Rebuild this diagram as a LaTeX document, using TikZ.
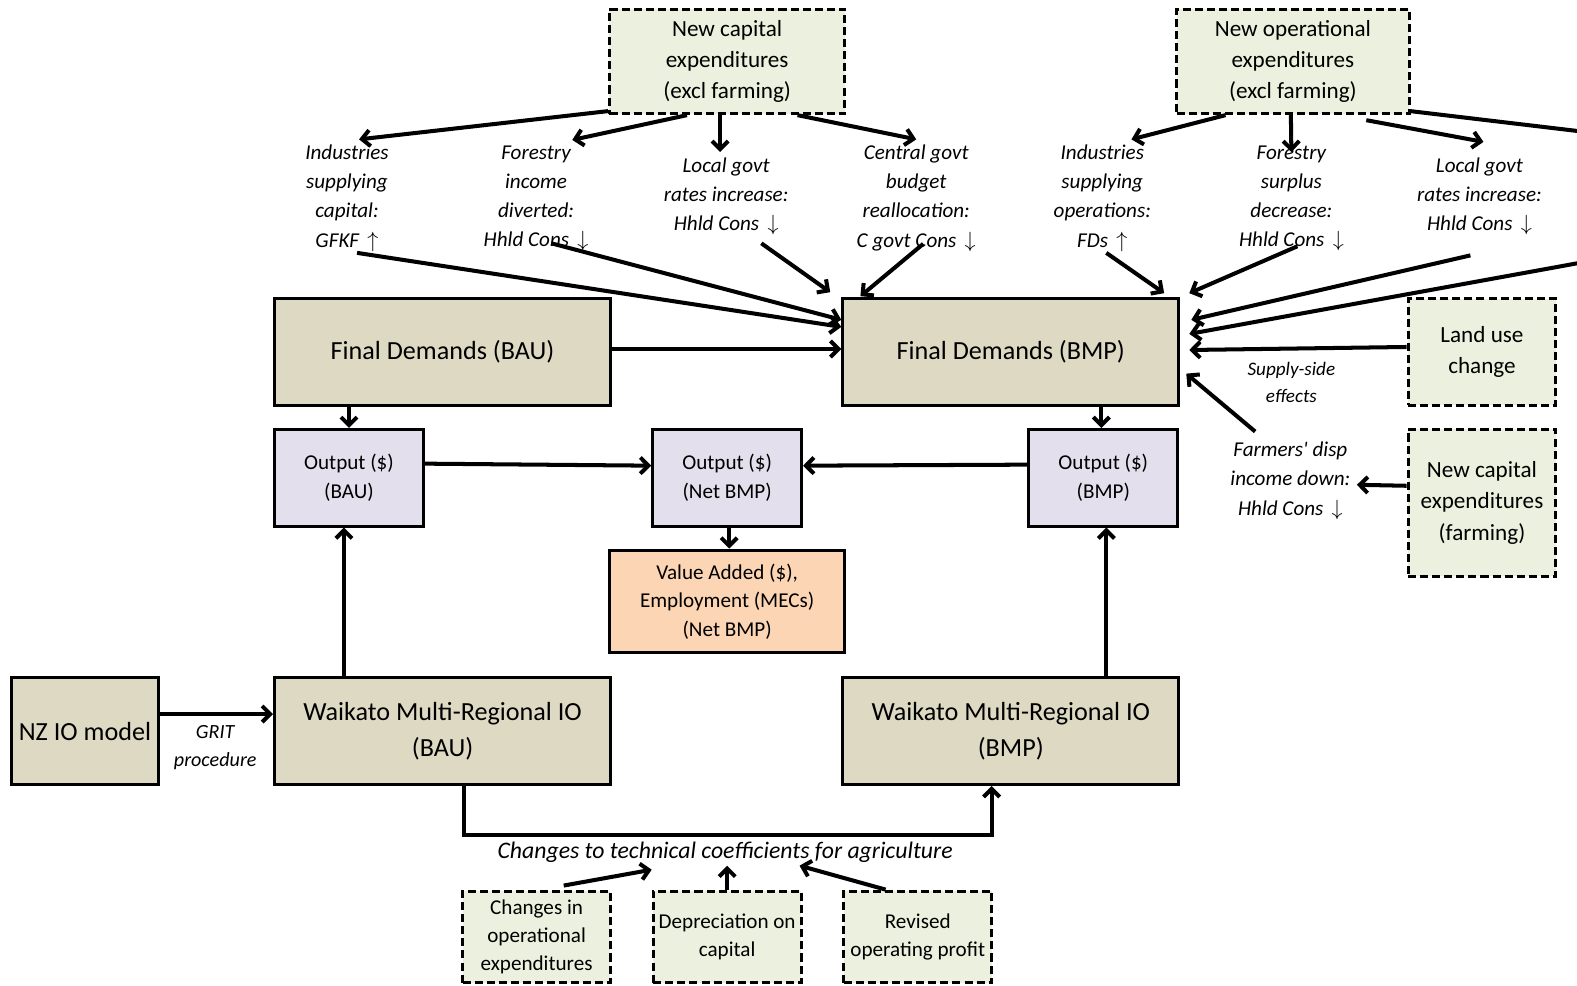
\documentclass[tikz,border=0pt]{standalone}
\usepackage{fontspec}
\setmainfont{Carlito}
\usetikzlibrary{arrows.meta}
\definecolor{fdtan}{HTML}{DDD9C3}
\definecolor{outlilac}{HTML}{E4DFEC}
\definecolor{newgreen}{HTML}{EBF1DE}
\definecolor{vaorange}{HTML}{FCD5B4}
\newcommand{\dn}{\ \,$\downarrow$}
\newcommand{\up}{\ \,$\uparrow$}

\begin{document}
\begin{tikzpicture}[x=0.5pt, y=-0.5pt,
  every node/.style={align=center, inner sep=1pt, line width=1.5pt},
  fdbox/.style={draw, fill=fdtan, minimum width=167pt, minimum height=53pt, font=\fontsize{13}{17.5}\selectfont},
  outbox/.style={draw, fill=outlilac, minimum width=74pt, minimum height=48pt, font=\fontsize{10.5}{14.5}\selectfont},
  newbox/.style={draw, dash pattern=on 4pt off 2pt, fill=newgreen, font=\fontsize{11.5}{15.5}\selectfont},
  smallbox/.style={draw, dash pattern=on 4pt off 2pt, fill=newgreen, minimum width=73.5pt, minimum height=45.5pt, font=\fontsize{10.5}{14}\selectfont},
  note/.style={font=\fontsize{10.5}{14.5}\selectfont\itshape},
  arr/.style={line width=2pt, -{Straight Barb[length=4pt,width=8pt]}}]
\useasboundingbox (0,0) rectangle (1568,980);

\node[newbox, minimum width=117pt, minimum height=52pt] (capex) at (723,61) {New capital\\expenditures\\(excl farming)};
\node[newbox, minimum width=115.5pt, minimum height=52pt] (opex) at (1285.5,61) {New operational\\expenditures\\(excl farming)};

\node[note] (ind1) at (345,197) {Industries\\supplying\\capital:\\GFKF\up};
\node[note] (forinc) at (533,197) {Forestry\\income\\diverted:\\Hhld Cons\dn};
\node[note] (loc1) at (722,195) {Local govt\\rates increase:\\Hhld Cons\dn};
\node[note] (cgov) at (911,197) {Central govt\\budget\\reallocation:\\C govt Cons\dn};
\node[note] (indop) at (1096,197) {Industries\\supplying\\operations:\\FDs\up};
\node[note] (forsur) at (1284,197) {Forestry\\surplus\\decrease:\\Hhld Cons\dn};
\node[note] (loc2) at (1471,195) {Local govt\\rates increase:\\Hhld Cons\dn};

\node[fdbox] (fdbau) at (440,350) {Final Demands (BAU)};
\node[fdbox] (fdbmp) at (1005,350) {Final Demands (BMP)};

\node[newbox, minimum width=73.5pt, minimum height=53pt] (landuse) at (1473.5,350) {Land use\\change};
\node[note, font=\fontsize{9.5}{13.5}\selectfont\itshape] (supply) at (1284,380) {Supply-side\\effects};
\node[note] (farm) at (1283,478) {Farmers\textquotesingle\ disp\\income down:\\Hhld Cons\dn};
\node[newbox, minimum width=73.5pt, minimum height=73pt] (capfarm) at (1473.5,500) {New capital\\expenditures\\(farming)};

\node[outbox] (outbau) at (347,475) {Output (\$)\\(BAU)};
\node[outbox] (outnet) at (723,475) {Output (\$)\\(Net BMP)};
\node[outbox] (outbmp) at (1097,475) {Output (\$)\\(BMP)};
\node[draw, fill=vaorange, minimum width=117pt, minimum height=51pt, font=\fontsize{10.5}{14.25}\selectfont] (valadd) at (723,598) {Value Added (\$),\\Employment (MECs)\\(Net BMP)};

\node[fdbox, minimum width=73.5pt] (nzio) at (84.5,727) {NZ IO model};
\node[note, font=\fontsize{10}{14}\selectfont\itshape] (grit) at (214,743) {GRIT\\procedure};
\node[fdbox] (wkbau) at (440,727) {Waikato Multi-Regional IO\\(BAU)};
\node[fdbox] (wkbmp) at (1005,727) {Waikato Multi-Regional IO\\(BMP)};

\node[note, font=\fontsize{11.8}{14}\selectfont\itshape] (coef) at (721,847) {Changes to technical coefficients for agriculture};
\node[smallbox] (chop) at (533.5,931.5) {Changes in\\operational\\expenditures};
\node[smallbox] (depr) at (723,931.5) {Depreciation on\\capital};
\node[smallbox] (rev) at (912.5,931.5) {Revised\\operating profit};

\coordinate (edgeA) at (1600,134);
\coordinate (edgeB) at (1600,256);

\draw[arr] ([yshift=2pt]capex.south west) -- ([xshift=6pt,yshift=1pt]ind1.north);
\draw[arr] ([xshift=-20pt]capex.south) -- ([xshift=18pt,yshift=1pt]forinc.north);
\draw[arr] ([xshift=-3.5pt]capex.south) -- ([xshift=-3pt,yshift=1pt]loc1.north);
\draw[arr] ([xshift=35pt]capex.south) -- ([yshift=1pt]cgov.north);
\draw[arr] ([xshift=-33.5pt]opex.south) -- ([xshift=14.5pt,yshift=1pt]indop.north);
\draw[arr] ([xshift=-1pt]opex.south) -- ([yshift=-5pt]forsur.north);
\draw[arr] ([xshift=36.5pt,yshift=-2.5pt]opex.south) -- ([xshift=2pt,yshift=6pt]loc2.north);
\draw[arr] ([yshift=2pt]opex.south east) -- (edgeA);

\draw[arr] ([xshift=5pt,yshift=1pt]ind1.south) -- ([yshift=12.5pt]fdbmp.west);
\draw[arr] ([xshift=7.5pt,yshift=5.5pt]forinc.south) -- ([yshift=16pt]fdbmp.west);
\draw[arr] ([xshift=17.5pt,yshift=-2.5pt]loc1.south) -- ([xshift=-5.5pt,yshift=2.5pt]fdbmp.north west);
\draw[arr] ([xshift=3.5pt,yshift=5.5pt]cgov.south) -- ([xshift=9.5pt,yshift=0.5pt]fdbmp.north west);
\draw[arr] ([xshift=2pt,yshift=1pt]indop.south) -- ([xshift=-8pt,yshift=2pt]fdbmp.north east);
\draw[arr] ([xshift=3pt,yshift=4pt]forsur.south) -- ([xshift=4.5pt,yshift=2pt]fdbmp.north east);
\draw[arr] ([xshift=-4.5pt,yshift=-8.5pt]loc2.south) -- ([xshift=5.5pt,yshift=16pt]fdbmp.east);
\draw[arr] (edgeB) -- ([xshift=4.5pt,yshift=9pt]fdbmp.east);
\draw[arr] ([yshift=2.5pt]landuse.west) -- ([xshift=4.5pt,yshift=1pt]fdbmp.east);
\draw[arr] ([xshift=-17.5pt,yshift=3.5pt]farm.north) -- ([xshift=3pt,yshift=16.5pt]fdbmp.south east);
\draw[arr] ([yshift=8.5pt]capfarm.west) -- ([xshift=1.5pt,yshift=-2pt]farm.east);

\draw[arr] ([yshift=1.5pt]fdbau.east) -- ([yshift=1.5pt]fdbmp.west);
\draw[arr] (outbau.north |- fdbau.south) -- (outbau.north);
\draw[arr] ([xshift=-1pt]outbmp.north |- fdbmp.south) -- ([xshift=-1pt]outbmp.north);
\draw[arr] ([yshift=7pt]outbau.east) -- ([yshift=6pt]outnet.west);
\draw[arr] ([yshift=6.5pt]outbmp.west) -- ([yshift=6pt]outnet.east);
\draw[arr] ([xshift=1pt]outnet.south) -- ([xshift=1pt]valadd.north);
\draw[arr] ([xshift=-2.5pt]outbau.south |- wkbau.north) -- ([xshift=-2.5pt]outbau.south);
\draw[arr] ([xshift=1.5pt]outbmp.south |- wkbmp.north) -- ([xshift=1.5pt]outbmp.south);
\draw[arr] ([yshift=8.5pt]nzio.east) -- ([yshift=8.5pt]wkbau.west);
\draw[arr] ([xshift=10.5pt]wkbau.south) -- ++(0,49) -| ([xshift=-9.5pt]wkbmp.south);

\draw[arr] ([xshift=13.5pt,yshift=2pt]chop.north) -- ([xshift=-36.5pt,yshift=-2pt]coef.south);
\draw[arr] (depr.north) -- (depr.north |- coef.south);
\draw[arr] ([xshift=-16pt]rev.north) -- ([xshift=37pt]coef.south);
\end{tikzpicture}
\end{document}
